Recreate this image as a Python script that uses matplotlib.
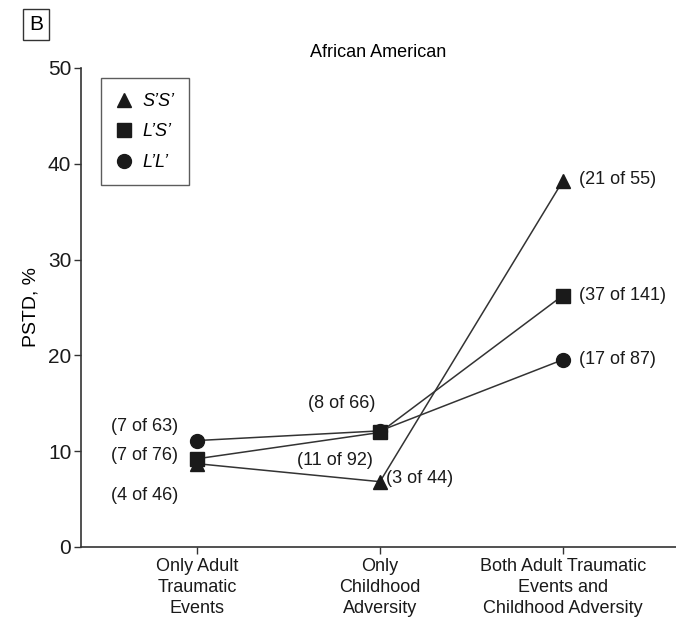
import matplotlib
matplotlib.use("Agg")
import matplotlib.pyplot as plt
from matplotlib import font_manager

families = [f.name for f in font_manager.fontManager.ttflist]
base = "Liberation Sans Narrow" if "Liberation Sans Narrow" in families else "Liberation Sans"
plt.rcParams["font.family"] = [base, "DejaVu Sans"]

categories = ["Only Adult\nTraumatic\nEvents", "Only\nChildhood\nAdversity",
              "Both Adult Traumatic\nEvents and\nChildhood Adversity"]
cases = {
    "SS": [4, 3, 21],
    "LS": [7, 11, 37],
    "LL": [7, 8, 17],
}
totals = {
    "SS": [46, 44, 55],
    "LS": [76, 92, 141],
    "LL": [63, 66, 87],
}
markers = {"SS": "^", "LS": "s", "LL": "o"}
labels = {"SS": "S\u2019S\u2019", "LS": "L\u2019S\u2019", "LL": "L\u2019L\u2019"}

fig = plt.figure(figsize=(6.76, 6.27), dpi=100)
ax = fig.add_axes([0.1198, 0.1276, 0.8802, 0.764])

x = [0, 1, 2]
pct = {}
handles = []
for key in ["SS", "LS", "LL"]:
    pct[key] = [100.0 * c / t for c, t in zip(cases[key], totals[key])]
    h, = ax.plot(x, pct[key], color="#333333", lw=1.1, marker=markers[key],
                 markersize=10 if key != "SS" else 10.5, markerfacecolor="#1a1a1a",
                 markeredgecolor="#1a1a1a", label=labels[key], zorder=3)
    handles.append(h)

fs = 13
def annotate(key, i, dx, dy, ha):
    ax.annotate(f"({cases[key][i]} of {totals[key][i]})", (x[i], pct[key][i]),
                xytext=(dx, dy), textcoords="offset points", ha=ha, va="center",
                fontsize=fs, color="#1a1a1a")

# left group
annotate("LL", 0, -14, 10, "right")
annotate("LS", 0, -14, 2, "right")
annotate("SS", 0, -14, -23, "right")
# middle group
annotate("LL", 1, -3, 20, "right")
annotate("LS", 1, -5, -20, "right")
annotate("SS", 1, 4, 2, "left")
# right group
annotate("SS", 2, 12, 1, "left")
annotate("LS", 2, 12, 0, "left")
annotate("LL", 2, 12, 0, "left")

ax.set_xlim(-0.636, 2.62)
ax.set_ylim(0, 50)
ax.set_yticks([0, 10, 20, 30, 40, 50])
ax.set_xticks(x)
ax.set_xticklabels(categories, fontsize=13, linespacing=1.3)
ax.tick_params(axis="y", labelsize=15, length=5, width=1, color="#333333", pad=2,
               labelcolor="#1a1a1a")
ax.tick_params(axis="x", length=5, width=1, color="#333333", pad=3, labelcolor="#1a1a1a")
for s in ["top", "right"]:
    ax.spines[s].set_visible(False)
for s in ["left", "bottom"]:
    ax.spines[s].set_color("#333333")
    ax.spines[s].set_linewidth(1.2)
ax.set_ylabel("PSTD, %", fontsize=14, labelpad=6)
ax.set_title("African American", fontsize=13, pad=8)

leg = ax.legend(handles=handles, loc="upper left", bbox_to_anchor=(0.018, 0.997),
                frameon=True, fancybox=False, edgecolor="#333333",
                prop={"style": "italic", "size": 13}, handlelength=1.0,
                handletextpad=0.5, labelspacing=0.75, borderpad=0.8,
                markerscale=1.0)
leg.get_frame().set_linewidth(1.0)
for line in leg.get_lines():
    line.set_linestyle("none")

fig.text(0.053, 0.961, "B", fontsize=15, ha="center", va="center",
         bbox=dict(boxstyle="square,pad=0.3", fc="white", ec="#333333", lw=1.0))

fig.savefig("out.png", dpi=100)
